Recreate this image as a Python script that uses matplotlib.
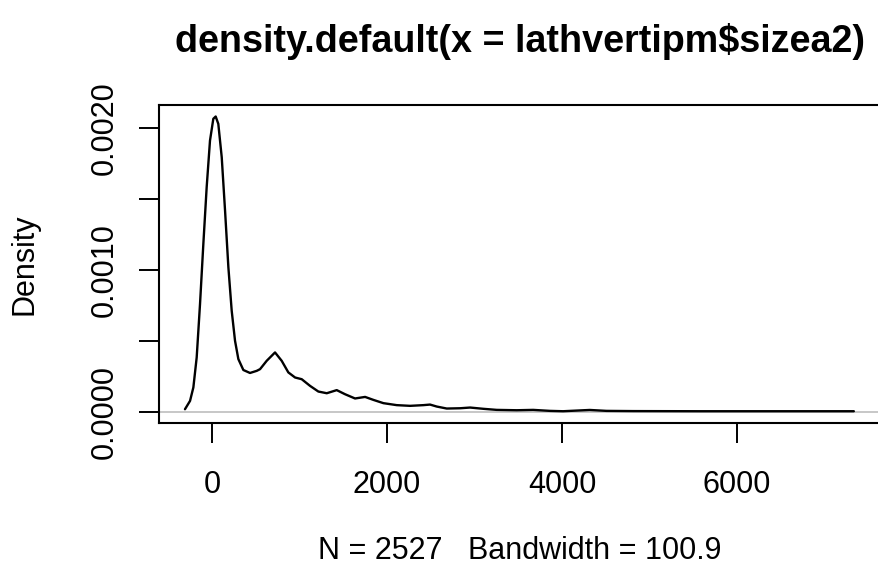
import matplotlib
matplotlib.use("Agg")
import matplotlib.pyplot as plt

# density curve (x, density * 1e6)
dens_x = [-309, -251, -213, -175, -137, -99, -61, -23, 15, 42, 72, 111, 149, 187,
          225, 263, 301, 358, 434, 511, 549, 625, 720, 796, 872, 949, 1025, 1120,
          1215, 1311, 1425, 1520, 1634, 1749, 1844, 1958, 2110, 2263, 2415, 2491,
          2568, 2682, 2834, 2949, 3101, 3253, 3482, 3669, 3861,
          4011, 4316, 4507, 4811, 5573, 6335, 7333]
dens_y = [16, 75, 170, 382, 758, 1182, 1583, 1912, 2066, 2082, 2030, 1795, 1418, 1018,
          711, 499, 370, 293, 272, 287, 299, 358, 417, 358, 276, 240, 228, 181,
          141, 129, 151, 122, 92, 103, 82, 59, 45, 40, 45, 49,
          35, 21, 23, 28, 19, 11.5, 9, 11.5, 4.5,
          2, 11, 4.5, 3, 2, 2, 2]
dens_y = [v * 1e-6 for v in dens_y]

x_ticks = [0, 2000, 4000, 6000]
y_ticks = [0.0, 0.0005, 0.0010, 0.0015, 0.0020]
y_labels = ["0.0000", "", "0.0010", "", "0.0020"]

title = "density.default(x = lathvertipm$sizea2)"
xlab = "N = 2527   Bandwidth = 100.9"

plt.rcParams['font.family'] = ['Liberation Sans', 'DejaVu Sans']

fig = plt.figure(figsize=(8.79, 5.74), dpi=100)
ax = fig.add_axes([0.18055, 0.26254, 0.8217, 0.55453])

ax.axhline(0, color="#bebebe", lw=1.2, zorder=1)
ax.plot(dens_x, dens_y, color="black", lw=1.7, zorder=2,
        solid_joinstyle="round", solid_capstyle="round")

ax.set_xlim(-609, 7643)
ax.set_ylim(-0.0000832, 0.0021632)

ax.set_xticks(x_ticks)
ax.set_xticklabels([str(t) for t in x_ticks])
ax.set_yticks(y_ticks)
ax.set_yticklabels(y_labels, rotation=90, va="center")

ax.tick_params(axis="both", direction="out", length=14.4, width=1.4,
               labelsize=22, color="black")
ax.tick_params(axis="x", pad=19)
ax.tick_params(axis="y", pad=14)
for s in ax.spines.values():
    s.set_linewidth(1.5)
ax.spines["right"].set_visible(False)

fig.text(0.5915, 0.928, title, ha="center", va="center", fontsize=27.2, fontweight="bold")
fig.text(0.5915, 0.0395, xlab, ha="center", va="center", fontsize=22)
fig.text(0.0284, 0.54, "Density", ha="center", va="center", fontsize=22, rotation=90)

fig.savefig("out.png", dpi=100)
